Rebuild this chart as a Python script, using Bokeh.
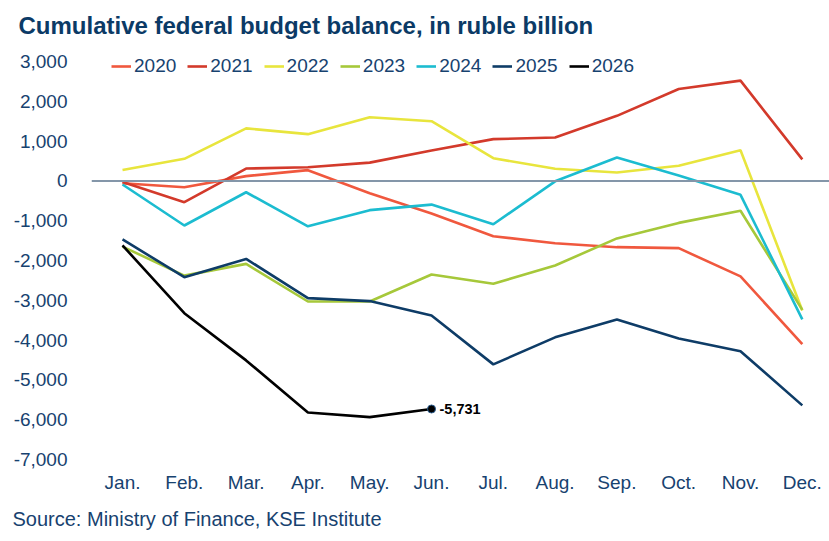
from bokeh.plotting import figure
from bokeh.models import (Range1d, FixedTicker, NumeralTickFormatter, Span, Label,
                          Legend, LegendItem, Title)
from bokeh.embed import file_html
from bokeh.resources import INLINE

months = ["Jan.", "Feb.", "Mar.", "Apr.", "May.", "Jun.", "Jul.", "Aug.", "Sep.", "Oct.", "Nov.", "Dec."]
years = ["2020", "2021", "2022", "2023", "2024", "2025", "2026"]

y2020 = [-60, -160, 120, 270, -310, -820, -1390, -1565, -1665, -1690, -2400, -4100]
y2021 = [-30, -535, 310, 345, 460, 765, 1050, 1090, 1635, 2310, 2520, 540]
y2022 = [275, 555, 1320, 1175, 1600, 1500, 570, 305, 210, 380, 770, -3255]
y2023 = [-1650, -2380, -2085, -3030, -3030, -2350, -2585, -2125, -1445, -1055, -750, -3240]
y2024 = [-90, -1120, -285, -1140, -735, -595, -1090, -10, 590, 135, -350, -3480]
y2025 = [-1470, -2420, -1960, -2945, -3020, -3380, -4610, -3930, -3480, -3960, -4280, -5640]
y2026 = [-1620, -3325, -4510, -5820, -5935, -5731]

series = [y2020, y2021, y2022, y2023, y2024, y2025, y2026]
colors = ["#F0583E", "#D33A2B", "#E8E53D", "#A6C83A", "#1CBCD0", "#0E3C67", "#000000"]

y_ticks = [3000, 2000, 1000, 0, -1000, -2000, -3000, -4000, -5000, -6000, -7000]

NAVY_TXT = "#17426F"
FONT = "Liberation Sans"

p = figure(width=829, height=541, output_backend="svg", toolbar_location=None,
           x_range=Range1d(-0.502, 11.44), y_range=Range1d(-7000, 3327),
           min_border_left=91, min_border_right=0, min_border_top=48, min_border_bottom=82)
p.outline_line_color = None
p.xgrid.grid_line_color = None
p.ygrid.grid_line_color = None
p.background_fill_color = "white"
p.border_fill_color = "white"

# axes
p.yaxis.ticker = FixedTicker(ticks=y_ticks)
p.yaxis.formatter = NumeralTickFormatter(format="0,0")
p.yaxis.axis_line_color = None
p.yaxis.major_tick_line_color = None
p.yaxis.minor_tick_line_color = None
p.yaxis.major_label_standoff = 18
p.yaxis.major_label_text_font = FONT
p.yaxis.major_label_text_font_size = "19px"
p.yaxis.major_label_text_color = NAVY_TXT

xi = list(range(len(months)))
p.xaxis.ticker = FixedTicker(ticks=xi)
p.xaxis.major_label_overrides = {i: m for i, m in zip(xi, months)}
p.xaxis.axis_line_color = None
p.xaxis.major_tick_line_color = None
p.xaxis.minor_tick_line_color = None
p.xaxis.major_label_standoff = 6
p.xaxis.major_label_text_font = FONT
p.xaxis.major_label_text_font_size = "19px"
p.xaxis.major_label_text_color = NAVY_TXT

p.add_layout(Span(location=0, dimension="width", line_color="#8496A9", line_width=2))

items = []
for yr, vals, c in zip(years, series, colors):
    r = p.line(xi[:len(vals)], vals, line_color=c, line_width=2.6)
    items.append(LegendItem(label=yr, renderers=[r]))

# end-point marker and label for 2026
last_x = len(y2026) - 1
last_v = y2026[-1]
p.scatter([last_x], [last_v], size=8, fill_color="#000000", line_color="#2A5C8F", line_width=1)
p.add_layout(Label(x=last_x, y=last_v, x_offset=8, text=f"{last_v:,}", text_font=FONT,
                   text_font_style="bold", text_font_size="14.5px", text_color="#000000",
                   text_baseline="middle"))

legend = Legend(items=items, orientation="horizontal", location=(20, 382),
                glyph_width=20, glyph_height=20, label_standoff=3, spacing=11,
                padding=0, margin=0, border_line_alpha=0, background_fill_alpha=0,
                label_text_font=FONT, label_text_font_size="19px",
                label_text_color=NAVY_TXT, label_height=20)
p.add_layout(legend, "center")

# title and source
p.add_layout(Title(text="Cumulative federal budget balance, in ruble billion", align="left",
                   offset=-73, standoff=19, text_font=FONT, text_font_style="bold",
                   text_font_size="24px", text_color="#0B3A66"), "above")
p.add_layout(Title(text="Source: Ministry of Finance, KSE Institute", align="left",
                   offset=-79, standoff=20, text_font=FONT, text_font_style="normal",
                   text_font_size="20px", text_color=NAVY_TXT), "below")

open("out.html", "w").write(file_html(p, INLINE))
